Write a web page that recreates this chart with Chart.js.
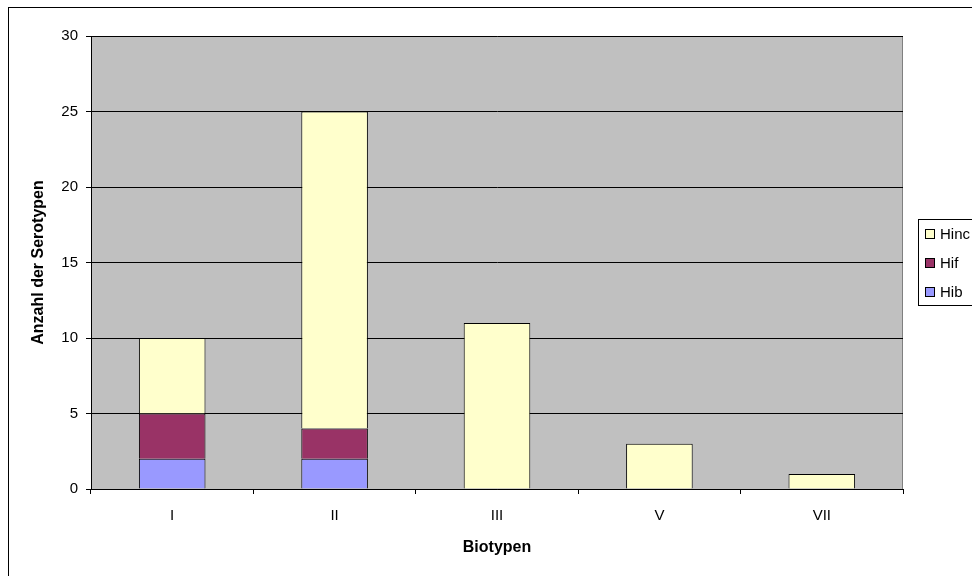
<!DOCTYPE html>
<html>
<head>
<meta charset="utf-8">
<script src="https://cdn.jsdelivr.net/npm/chart.js@4/dist/chart.umd.min.js"></script>
<style>
  html, body { margin: 0; padding: 0; background: #fff; overflow: hidden; }
  #wrap { width: 972px; height: 576px; overflow: hidden; }
</style>
</head>
<body>
<div id="wrap"><canvas id="serotypChart" width="1000" height="576"></canvas></div>
<script>
const biotypen = ['I', 'II', 'III', 'V', 'VII'];
const hib = [2, 2, 0, 0, 0];
const hif = [3, 2, 0, 0, 0];
const hinc = [5, 21, 11, 3, 1];

const font = 'Liberation Sans, Arial, sans-serif';

// gray plot background and outer frame, like the old spreadsheet charts
const frame = {
  id: 'frame',
  beforeDraw(chart) {
    const { ctx, chartArea: a } = chart;
    ctx.save();
    ctx.fillStyle = '#fff';
    ctx.fillRect(0, 0, chart.width, chart.height);
    ctx.strokeStyle = '#000';
    ctx.lineWidth = 1;
    ctx.strokeRect(8.5, 7.5, 1000, 600);
    ctx.fillStyle = '#c0c0c0';
    ctx.fillRect(a.left, a.top, a.right - a.left, a.bottom - a.top);
    ctx.strokeStyle = '#808080';
    ctx.beginPath();
    ctx.moveTo(a.left, a.top + 0.5);
    ctx.lineTo(a.right - 0.5, a.top + 0.5);
    ctx.lineTo(a.right - 0.5, a.bottom);
    ctx.stroke();
    ctx.restore();
  },
  afterDraw(chart) {
    // legend box on the right, partly cut off by the page edge
    const ctx = chart.ctx;
    const items = chart.data.datasets.slice().reverse();
    ctx.save();
    ctx.strokeStyle = '#000';
    ctx.lineWidth = 1;
    ctx.strokeRect(918.5, 219.5, 80, 86);
    ctx.font = '15px ' + font;
    ctx.textBaseline = 'middle';
    items.forEach((ds, i) => {
      const y = 234 + i * 29;
      ctx.fillStyle = ds.backgroundColor;
      ctx.fillRect(926, y - 4, 8, 8);
      ctx.strokeRect(925.5, y - 4.5, 9, 9);
      ctx.fillStyle = '#000';
      ctx.fillText(ds.label, 940, y + 1);
    });
    ctx.restore();
  }
};

const ds = (label, data, color) => ({
  label, data, backgroundColor: color,
  borderColor: '#000', borderWidth: 1,
  categoryPercentage: 1, barPercentage: 0.41
});

new Chart(document.getElementById('serotypChart'), {
  type: 'bar',
  data: {
    labels: biotypen,
    datasets: [
      ds('Hib', hib, '#9999ff'),
      ds('Hif', hif, '#993366'),
      ds('Hinc', hinc, '#ffffcc')
    ]
  },
  plugins: [frame],
  options: {
    responsive: false,
    animation: false,
    layout: { padding: { left: 0, top: 36, right: 97, bottom: 0 } },
    plugins: { legend: { display: false }, tooltip: { enabled: false } },
    scales: {
      x: {
        stacked: true,
        afterFit: s => { s.height = 87; },
        grid: { drawOnChartArea: false, color: '#000', tickLength: 5, offset: true },
        border: { color: '#000' },
        ticks: { color: '#000', font: { family: font, size: 15 }, padding: 13 },
        title: { display: true, text: 'Biotypen', color: '#000', font: { family: font, size: 16, weight: 'bold' }, padding: { top: 19, bottom: 19 } }
      },
      y: {
        stacked: true,
        min: 0, max: 30,
        afterFit: s => { s.width = 91; },
        grid: { color: '#000', tickLength: 5 },
        border: { color: '#000' },
        ticks: { stepSize: 5, color: '#000', font: { family: font, size: 15 }, padding: 8 },
        title: { display: true, text: 'Anzahl der Serotypen', color: '#000', font: { family: font, size: 16, weight: 'bold' }, padding: { top: 29, bottom: 29 } }
      }
    }
  }
});
</script>
</body>
</html>
